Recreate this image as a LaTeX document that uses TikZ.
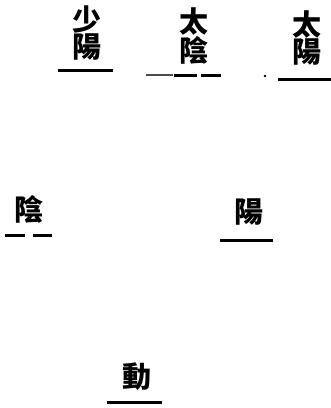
\documentclass[tikz,border=0pt]{standalone}
\usepackage{fontspec}
\newfontfamily\cjk{Noto Sans CJK TC}
\usetikzlibrary{positioning, calc}

\begin{document}
\begin{tikzpicture}[
    x=1pt, y=-1pt,
    font=\cjk\bfseries\fontsize{29}{26}\selectfont,
    word/.style={inner sep=0pt, align=center},
    yang/.style={line width=3pt},
    yin/.style={line width=3pt},
    faint/.style={line width=1.4pt, black!70}
]
\useasboundingbox (0,0) rectangle (331,408);

% Top row
\node[word] (shaoyang) at (87,33) {少\\陽};
\node[word] (taiyin) at (194,36) {太\\陰};
\node[word] (taiyang) at (307,38) {太\\陽};

% Middle row
\node[word] (yin) at (29,209) {陰};
\node[word] (yang) at (249,212) {陽};

% Bottom
\node[word] (dong) at (137,377) {動};

% Lines
\draw[yang] (58,70) -- (113,70);
\draw[faint] (146,75) -- (173,75);
\draw[yin] (174,75) -- (197,75);
\draw[yin] (201,75) -- (221,75);
\fill (265,76) circle (1.4);
\draw[yang] (278,79) -- (331,79);

\draw[yin] (5,235) -- (25,235);
\draw[yin] (33,235) -- (52,235);
\draw[yang] (220,240) -- (273,240);

\draw[yang] (107,402) -- (162,402);

\end{tikzpicture}
\end{document}
